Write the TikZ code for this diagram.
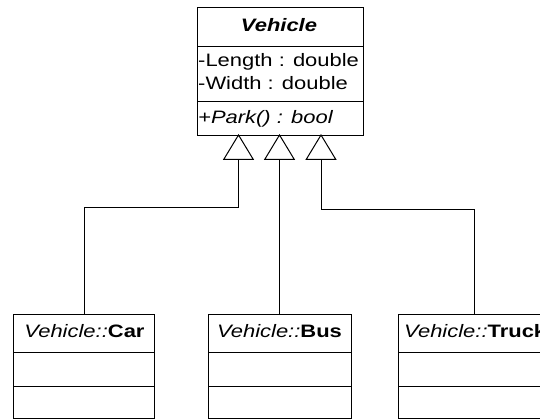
\documentclass[tikz,border=0pt]{standalone}
\usepackage{fontspec}
\usetikzlibrary{calc}
\setmainfont{Liberation Sans}[FakeStretch=1.22]
\newcommand{\umlsize}{\fontsize{18}{23}\selectfont}
\begin{document}
\begin{tikzpicture}[x=1pt,y=-1pt,
  classbox/.style={draw, line width=1pt, inner sep=0pt, anchor=north west},
  lbl/.style={inner sep=0pt, font=\umlsize},
  sep/.style={line width=1pt},
  link/.style={draw, line width=1pt},
  gen/.style={draw, line width=1pt, fill=white, line join=miter}]
\useasboundingbox (0,0) rectangle (540,419);
\clip (0,0) rectangle (540,419);

% base class
\node[classbox, minimum width=166pt, minimum height=128pt] (vehicle) at (197,7) {};
\draw[sep] (197,47) -- (363,47);
\draw[sep] (197,102) -- (363,102);
\node[lbl, anchor=base] (vtitle) at (279,32) {\bfseries\itshape Vehicle};
\node[lbl, anchor=base west] (vlen) at (198,67) {-Length : double};
\node[lbl, anchor=base west] (vwid) at (198,90) {-Width : double};
\node[lbl, anchor=base west] (vpark) at (198,124) {\itshape +Park() : bool};

% derived classes
\node[classbox, minimum width=141pt, minimum height=104pt] (car) at (13,314) {};
\draw[sep] (13,352) -- (154,352);
\draw[sep] (13,386) -- (154,386);
\node[lbl, anchor=base] (cartitle) at (84.5,337.5) {\itshape Vehicle::\upshape\bfseries Car};

\node[classbox, minimum width=143pt, minimum height=104pt] (bus) at (208,314) {};
\draw[sep] (208,352) -- (351,352);
\draw[sep] (208,386) -- (351,386);
\node[lbl, anchor=base] (bustitle) at (279.5,337.5) {\itshape Vehicle::\upshape\bfseries Bus};

\node[classbox, minimum width=151pt, minimum height=104pt] (truck) at (398,314) {};
\draw[sep] (398,352) -- (549,352);
\draw[sep] (398,386) -- (549,386);
\node[lbl, anchor=base west] (trucktitle) at (404,337.5) {\itshape Vehicle::\upshape\bfseries Truck};

% generalization arrowheads
\coordinate (t1) at (238.5,135);
\coordinate (t2) at (279.5,135);
\coordinate (t3) at (321,135);
\foreach \t in {t1,t2,t3}{
  \draw[gen] (\t) -- ++(-14.7,24.3) -- ++(29.4,0) -- cycle;
  \coordinate (\t b) at ($(\t)+(0,24.3)$);
}

% inheritance connectors
\draw[link] (t1b) -- ++(0,48) -| (car.north);
\draw[link] (t2b) -- (t2b |- bus.north);
\draw[link] (t3b) -- ++(0,50) -| (truck.north);
\end{tikzpicture}
\end{document}
